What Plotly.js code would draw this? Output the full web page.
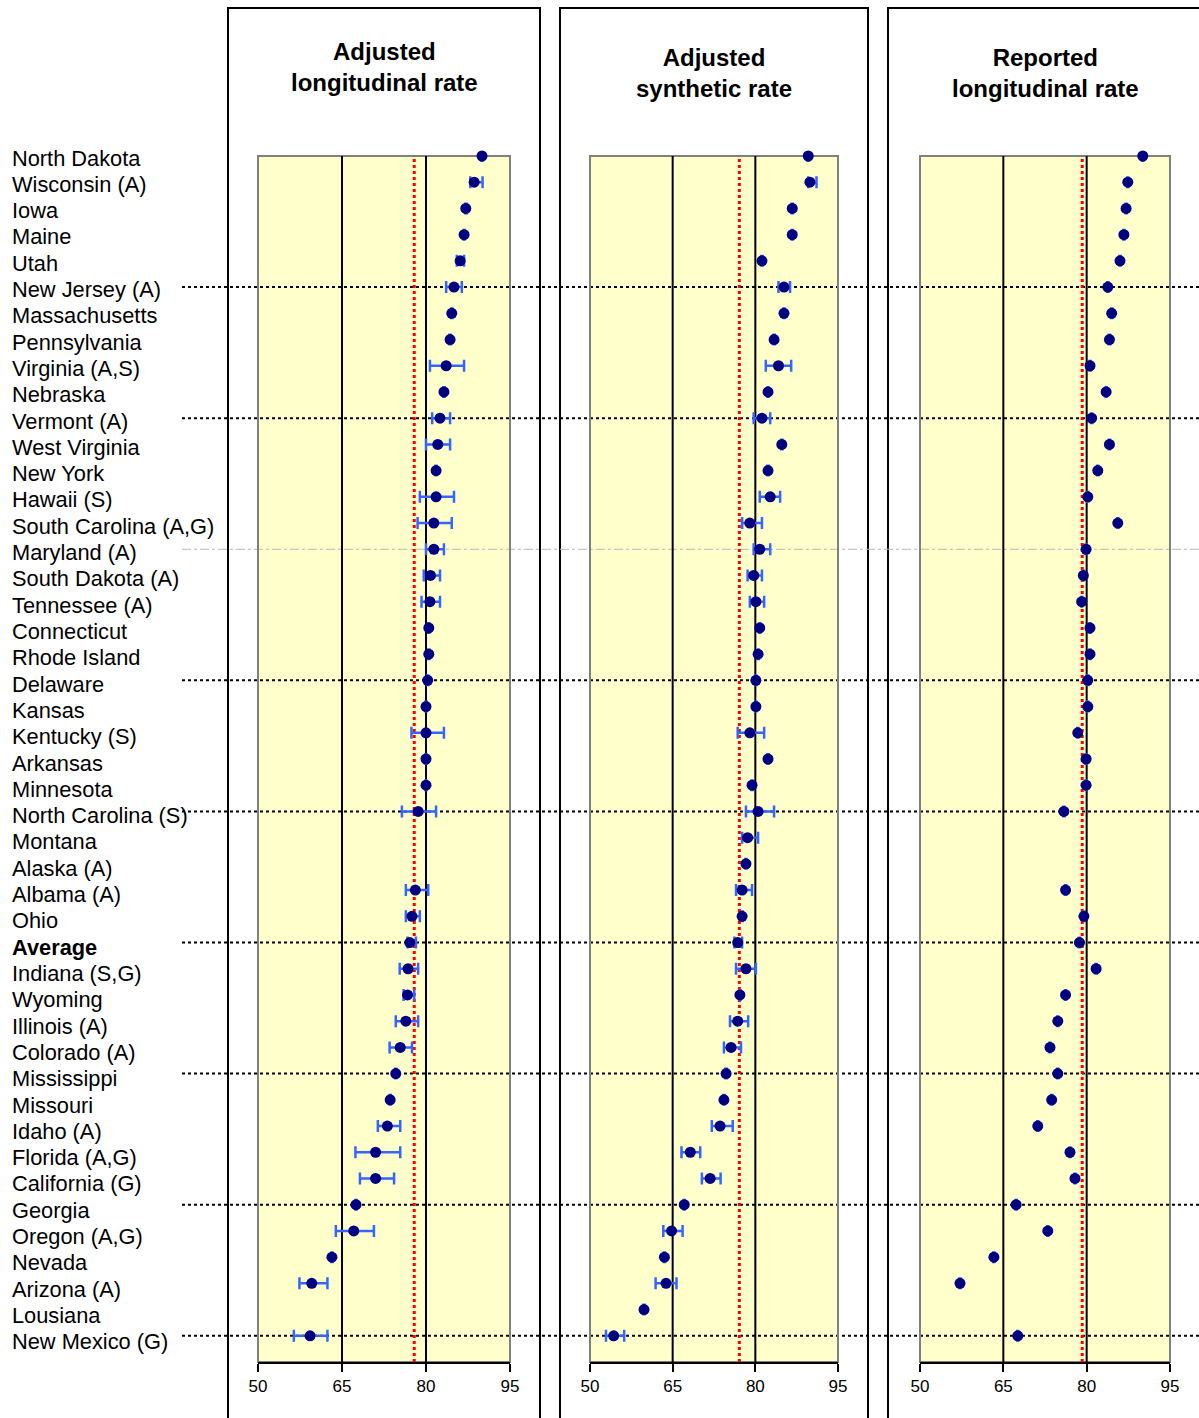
<!DOCTYPE html>
<html>
<head>
<meta charset="utf-8">
<script src="https://cdn.plot.ly/plotly-3.0.1.min.js"></script>
<style>html,body{margin:0;padding:0;background:#fff;}#chart{width:1199px;height:1418px;}</style>
</head>
<body>
<div id="chart"></div>
<script>
const states = ["North Dakota","Wisconsin (A)","Iowa","Maine","Utah","New Jersey (A)","Massachusetts","Pennsylvania","Virginia (A,S)","Nebraska","Vermont (A)","West Virginia","New York","Hawaii (S)","South Carolina (A,G)","Maryland (A)","South Dakota (A)","Tennessee (A)","Connecticut","Rhode Island","Delaware","Kansas","Kentucky (S)","Arkansas","Minnesota","North Carolina (S)","Montana","Alaska (A)","Albama (A)","Ohio","Average","Indiana (S,G)","Wyoming","Illinois (A)","Colorado (A)","Mississippi","Missouri","Idaho (A)","Florida (A,G)","California (G)","Georgia","Oregon (A,G)","Nevada","Arizona (A)","Lousiana","New Mexico (G)"];

const panelTitles = ["Adjusted<br>longitudinal rate","Adjusted<br>synthetic rate","Reported<br>longitudinal rate"];

const adjLong   = [90.0,88.6,87.1,86.8,86.1,85.0,84.6,84.3,83.6,83.2,82.5,82.1,81.8,81.8,81.4,81.4,80.8,80.7,80.5,80.5,80.3,80.0,80.0,80.0,80.0,78.6,null,null,78.1,77.5,77.1,76.8,76.7,76.4,75.4,74.6,73.6,73.1,71.0,71.0,67.5,67.1,63.2,59.6,null,59.3];
const adjLongLo = [89.9,87.9,87.0,86.7,85.5,83.6,84.5,84.2,80.7,83.1,81.1,80.0,81.7,78.9,78.5,80.0,79.6,79.2,80.4,80.4,80.2,79.9,77.4,79.9,79.9,75.7,null,null,76.4,76.4,76.7,75.3,76.0,74.6,73.5,74.5,73.5,71.4,67.4,68.2,67.4,63.9,63.1,57.4,null,56.4];
const adjLongHi = [90.1,90.1,87.3,86.9,86.8,86.4,84.7,84.4,86.8,83.3,84.3,84.3,81.9,85.0,84.6,83.2,82.5,82.5,80.6,80.6,80.4,80.1,83.2,80.1,80.1,81.8,null,null,80.4,78.9,78.2,78.6,77.9,78.6,77.5,74.7,73.7,75.4,75.4,74.3,67.6,70.7,63.3,62.4,null,62.4];

const adjSyn   = [89.6,89.9,86.7,86.7,81.2,85.2,85.2,83.4,84.2,82.3,81.2,84.8,82.3,82.7,79.0,80.8,79.7,80.1,80.8,80.5,80.1,80.1,79.0,82.3,79.4,80.5,78.6,78.3,77.6,77.6,76.8,78.3,77.2,76.8,75.6,74.7,74.3,73.6,68.2,71.8,67.1,64.8,63.5,63.8,59.8,54.3];
const adjSynLo = [89.5,89.6,86.6,86.6,81.1,84.2,85.1,83.3,81.9,82.2,79.7,84.7,82.2,80.8,77.6,79.7,78.6,79.0,80.7,80.4,80.0,80.0,76.8,82.2,79.3,78.3,77.6,78.2,76.5,77.5,76.2,76.5,77.1,75.4,74.3,74.6,74.2,72.1,66.6,70.3,67.0,63.3,63.4,61.9,59.7,52.9];
const adjSynHi = [89.7,91.1,86.8,86.8,81.3,86.3,85.3,83.5,86.5,82.4,82.7,84.9,82.4,84.5,81.2,82.7,81.2,81.6,80.9,80.6,80.2,80.2,81.6,82.4,79.5,83.4,80.5,78.4,79.4,77.7,77.6,80.1,77.3,78.7,77.4,74.8,74.4,75.9,70.0,73.7,67.2,66.8,63.6,65.7,59.9,56.2];

const repLong = [90.1,87.4,87.1,86.7,86.0,83.8,84.5,84.1,80.6,83.5,80.9,84.1,82.0,80.2,85.6,79.9,79.4,79.1,80.6,80.6,80.2,80.2,78.4,79.9,79.9,75.9,null,null,76.2,79.5,78.7,81.7,76.2,74.8,73.4,74.8,73.7,71.2,77.0,77.9,67.3,73.0,63.3,57.2,null,67.6];
const repLongErr = 0.1;

const averageLines = [77.9, 77.1, 79.2];
const gridValues = [65, 80];
const tickValues = [50, 65, 80, 95];
const separatorRows = [5,10,15,20,25,30,35,40,45];
const separatorColors = ["#000","#000","#b8b8b8","#000","#000","#000","#000","#000","#000"];

const rows = states.map((_, i) => i);
const FONT = "Liberation Sans, Arial, sans-serif";
const W = 1199, H = 1418;

function plus(v, hi){ return v.map((d,i)=> d==null||hi[i]==null ? null : Math.max(hi[i]-d, 0)); }
function minus(v, lo){ return v.map((d,i)=> d==null||lo[i]==null ? null : Math.max(d-lo[i], 0)); }

const markerStyle = {color:"#000080", size:11};
const errStyle = {color:"#3366ff", thickness:2.5, width:6};

const traces = [
  {x: adjLong, y: rows, type:"scatter", mode:"markers", xaxis:"x", yaxis:"y", marker: markerStyle, cliponaxis:false,
   error_x: Object.assign({type:"data", symmetric:false, array: plus(adjLong, adjLongHi), arrayminus: minus(adjLong, adjLongLo)}, errStyle), hoverinfo:"x"},
  {x: adjSyn, y: rows, type:"scatter", mode:"markers", xaxis:"x2", yaxis:"y2", marker: markerStyle, cliponaxis:false,
   error_x: Object.assign({type:"data", symmetric:false, array: plus(adjSyn, adjSynHi), arrayminus: minus(adjSyn, adjSynLo)}, errStyle), hoverinfo:"x"},
  {x: repLong, y: rows, type:"scatter", mode:"markers", xaxis:"x3", yaxis:"y3", marker: markerStyle, cliponaxis:false,
   error_x: Object.assign({type:"constant", value: repLongErr}, errStyle), hoverinfo:"x"}
];

const yDomain = [1 - 1362/H, 1 - 156/H];
const xDomains = [[258/W, 510/W],[590/W, 838/W],[920/W, 1170/W]];
const frames = [[228, 540],[560, 868],[888, 1210]];
const titleCenters = [[384, 67],[714, 73],[1045, 73]];

function xaxisDef(d){
  return {domain:d, range:[50,95], tickvals:tickValues, ticktext:tickValues.map(String),
    ticks:"outside", ticklen:8, tickwidth:2, tickcolor:"#000",
    showline:true, linecolor:"#000", linewidth:2, showgrid:false, zeroline:false,
    tickfont:{family:FONT, size:17, color:"#000"}, fixedrange:true};
}
function yaxisDef(anchor){
  return {domain:yDomain, range:[46,0], anchor:anchor, showgrid:false, zeroline:false,
    showticklabels:false, ticks:"", showline:false, fixedrange:true};
}

const shapes = [];
frames.forEach(f => shapes.push({type:"rect", xref:"paper", yref:"paper", x0:f[0]/W, x1:f[1]/W, y0:-0.02, y1:1-8/H,
  line:{color:"#000", width:2}, fillcolor:"rgba(0,0,0,0)", layer:"below"}));
separatorRows.forEach((r,k) => {
  const solidBlack = separatorColors[k] === "#000";
  shapes.push({type:"line", xref:"paper", yref:"y", x0:182/W, x1:1, y0:r, y1:r,
    line:{color:separatorColors[k], width: solidBlack ? 2 : 1, dash: solidBlack ? "dot" : "dashdot"}, layer:"below"});
});
["", "2", "3"].forEach((s, k) => {
  shapes.push({type:"rect", xref:"x"+s+" domain", yref:"y"+s+" domain", x0:0, x1:1, y0:0, y1:1,
    line:{color:"#808080", width:2}, layer:"below"});
  gridValues.forEach(g => shapes.push({type:"line", xref:"x"+s, yref:"y"+s+" domain", x0:g, x1:g, y0:0, y1:1,
    line:{color:"#000", width:2}, layer:"below"}));
  shapes.push({type:"line", xref:"x"+s, yref:"y"+s+" domain", x0:averageLines[k], x1:averageLines[k], y0:0, y1:1,
    line:{color:"#ff0000", width:3, dash:"dot"}, layer:"below"});
});

const annotations = [];
states.forEach((s,i) => annotations.push({xref:"paper", yref:"y", x:10/W, y:i, xanchor:"left", yanchor:"middle",
  text: s === "Average" ? "<b>"+s+"</b>" : s, showarrow:false, yshift: -(2 + 4*i/45),
  font:{family:FONT, size:21.8, color:"#000"}}));
panelTitles.forEach((t,k) => annotations.push({xref:"paper", yref:"paper", x:titleCenters[k][0]/W, y:1-titleCenters[k][1]/H,
  xanchor:"center", yanchor:"middle", text:"<b>"+t+"</b>", showarrow:false,
  font:{family:FONT, size:24, color:"#000"}}));

const layout = {
  width:W, height:H, margin:{l:0, r:0, t:0, b:0},
  paper_bgcolor:"#ffffff", plot_bgcolor:"#ffffcc",
  showlegend:false,
  xaxis: xaxisDef(xDomains[0]), xaxis2: xaxisDef(xDomains[1]), xaxis3: xaxisDef(xDomains[2]),
  yaxis: yaxisDef("x"), yaxis2: yaxisDef("x2"), yaxis3: yaxisDef("x3"),
  shapes: shapes, annotations: annotations,
  font:{family:FONT}
};

Plotly.newPlot("chart", traces, layout, {displayModeBar:false, staticPlot:true});
</script>
</body>
</html>
